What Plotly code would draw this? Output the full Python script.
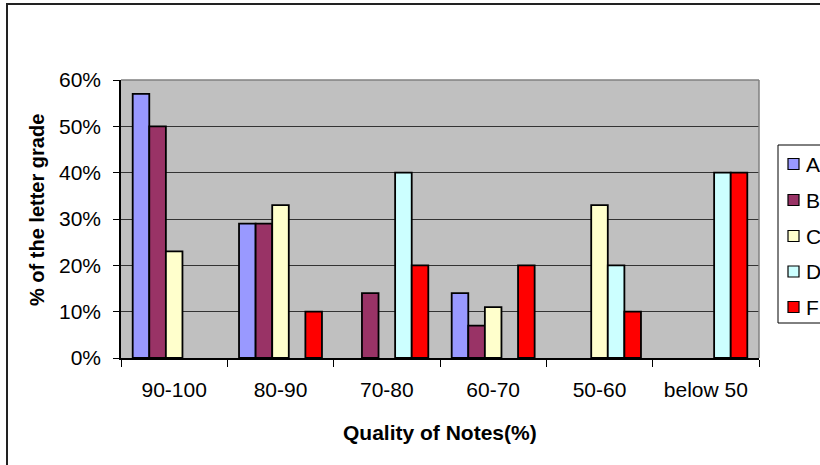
import plotly.graph_objects as go

categories = ["90-100", "80-90", "70-80", "60-70", "50-60", "below 50"]
series_names = ["A", "B", "C", "D", "F"]
A = [0.57, 0.29, 0.00, 0.14, 0.00, 0.00]
B = [0.50, 0.29, 0.14, 0.07, 0.00, 0.00]
C = [0.23, 0.33, 0.00, 0.11, 0.33, 0.00]
D = [0.00, 0.00, 0.40, 0.00, 0.20, 0.40]
F = [0.00, 0.10, 0.20, 0.20, 0.10, 0.40]
series_values = [A, B, C, D, F]
colors = ["#9999FF", "#993366", "#FFFFCC", "#CCFFFF", "#FF0000"]
y_ticks = [0, 0.1, 0.2, 0.3, 0.4, 0.5, 0.6]

W, H = 820, 465
L, R, T, Bm = 121, 61, 80, 107
PW, PH = W - L - R, H - T - Bm
FONT = "Liberation Sans, Arial, sans-serif"


def px(x):
    return (x - L) / PW


def py(y):
    return (H - Bm - y) / PH


fig = go.Figure()
for name, vals, col in zip(series_names, series_values, colors):
    fig.add_trace(go.Bar(
        x=categories, y=[v if v else None for v in vals], name=name,
        marker=dict(color=col, line=dict(color="black", width=1.8)),
        showlegend=False,
    ))

shapes = []
# plot-area top and right border (gray)
shapes.append(dict(type="line", xref="paper", yref="paper", x0=0, x1=1, y0=1, y1=1,
                   line=dict(color="#808080", width=1.5), layer="above"))
shapes.append(dict(type="line", xref="paper", yref="paper", x0=1, x1=1, y0=0, y1=1,
                   line=dict(color="#808080", width=1.5), layer="above"))
# outer chart border
shapes.append(dict(type="rect", xref="paper", yref="paper",
                   x0=px(7), x1=px(835), y0=py(480), y1=py(4),
                   line=dict(color="#222222", width=2), layer="below"))
# legend box
shapes.append(dict(type="rect", xref="paper", yref="paper",
                   x0=px(778), x1=px(835), y0=py(323), y1=py(145),
                   line=dict(color="black", width=1), fillcolor="white", layer="above"))

annotations = []
leg_y = [164, 200, 236, 271.5, 307]
for name, col, yc in zip(series_names, colors, leg_y):
    shapes.append(dict(type="rect", xref="paper", yref="paper",
                       x0=px(788), x1=px(799), y0=py(yc + 5.5), y1=py(yc - 5.5),
                       line=dict(color="black", width=1.2), fillcolor=col, layer="above"))
    annotations.append(dict(text=name, xref="paper", yref="paper", x=px(804), y=py(yc),
                            xanchor="left", yanchor="middle", showarrow=False,
                            font=dict(family=FONT, size=21, color="black")))

annotations.append(dict(text="<b>Quality of Notes(%)</b>", xref="paper", yref="paper",
                        x=px(440), y=py(432), xanchor="center", yanchor="middle",
                        showarrow=False, font=dict(family=FONT, size=21, color="black")))
annotations.append(dict(text="<b>% of the letter grade</b>", xref="paper", yref="paper",
                        x=px(37), y=py(210), xanchor="center", yanchor="middle",
                        textangle=-90, showarrow=False,
                        font=dict(family=FONT, size=20, color="black")))

fig.update_layout(
    width=W, height=H,
    margin=dict(l=L, r=R, t=T, b=Bm, pad=0),
    paper_bgcolor="white", plot_bgcolor="#C0C0C0",
    barmode="group", bargap=0.22, bargroupgap=0,
    font=dict(family=FONT, size=21, color="black"),
    shapes=shapes, annotations=annotations,
    showlegend=False,
)
fig.update_xaxes(
    type="category", tickson="boundaries", ticks="outside", ticklen=7,
    tickcolor="black", tickwidth=1, showline=True, linecolor="black", linewidth=1.5,
    showgrid=False, tickfont=dict(family=FONT, size=21, color="black"),
    ticklabelstandoff=12,
)
fig.update_yaxes(
    range=[0, 0.6], tickvals=y_ticks, tickformat=".0%", ticks="outside", ticklen=6,
    tickcolor="black", tickwidth=1, showline=True, linecolor="black", linewidth=1.5,
    showgrid=True, gridcolor="#333333", gridwidth=1, zeroline=False,
    tickfont=dict(family=FONT, size=21, color="black"), ticklabelstandoff=8,
)

fig.write_html(
    "out.html",
    config={"displayModeBar": False},
    post_script="document.body.style.margin='0';document.body.style.overflow='hidden';",
)
